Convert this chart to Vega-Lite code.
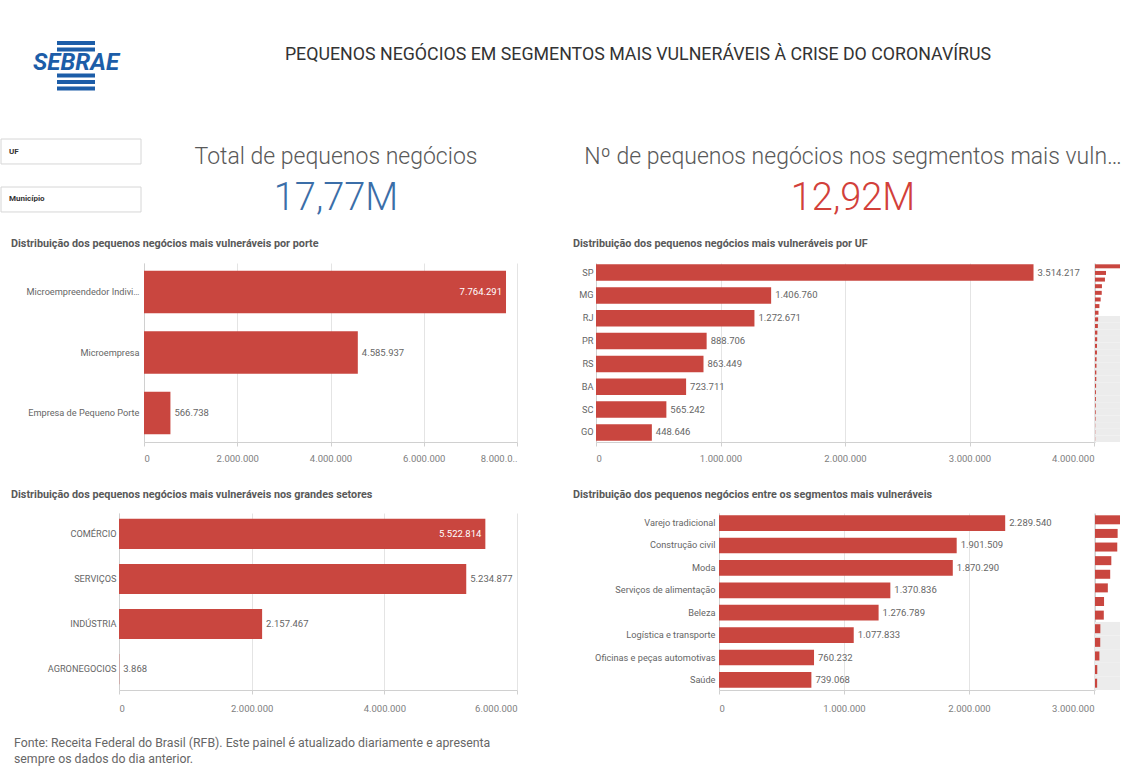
{
  "$schema": "https://vega.github.io/schema/vega-lite/v6.json",
  "padding": 0,
  "background": "white",
  "spacing": 0,
  "config": {
    "view": {"stroke": null},
    "font": "Roboto",
    "locale": {"number": {"decimal": ",", "thousands": ".", "grouping": [3], "currency": ["R$", ""]}},
    "title": {"font": "Roboto", "fontSize": 10.8, "fontWeight": "bold", "color": "#595959", "anchor": "start", "frame": "bounds"},
    "axis": {"labelFont": "Roboto", "labelFontSize": 9.5, "labelColor": "#808080", "domainColor": "#d0d0d0", "gridColor": "#e4e4e4", "tickColor": "#d0d0d0"}
  },
  "datasets": {
    "vazio": [{"texto": ""}],
    "logo": [
      {"parte": "f1", "elemento": "faixa"},
      {"parte": "f2", "elemento": "faixa"},
      {"parte": "marca", "elemento": "texto", "texto": "SEBRAE"},
      {"parte": "f3", "elemento": "faixa"},
      {"parte": "f4", "elemento": "faixa"},
      {"parte": "f5", "elemento": "faixa"}
    ],
    "titulo": [{"texto": "PEQUENOS NEGÓCIOS EM SEGMENTOS MAIS VULNERÁVEIS À CRISE DO CORONAVÍRUS"}],
    "filtros": [{"filtro": "UF"}, {"filtro": "Município"}],
    "kpi": [
      {"grupo": "total", "indicador": "Total de pequenos negócios", "valor": 17770000},
      {"grupo": "vulneraveis", "indicador": "Nº de pequenos negócios nos segmentos mais vulneráveis", "valor": 12920000}
    ],
    "porte": [
      {"porte": "Microempreendedor Individual", "valor": 7764291},
      {"porte": "Microempresa", "valor": 4585937},
      {"porte": "Empresa de Pequeno Porte", "valor": 566738}
    ],
    "uf": [
      {"uf": "SP", "valor": 3514217},
      {"uf": "MG", "valor": 1406760},
      {"uf": "RJ", "valor": 1272671},
      {"uf": "PR", "valor": 888706},
      {"uf": "RS", "valor": 863449},
      {"uf": "BA", "valor": 723711},
      {"uf": "SC", "valor": 565242},
      {"uf": "GO", "valor": 448646},
      {"uf": "PE", "valor": 400000},
      {"uf": "CE", "valor": 370000},
      {"uf": "ES", "valor": 300000},
      {"uf": "PA", "valor": 280000},
      {"uf": "MT", "valor": 260000},
      {"uf": "DF", "valor": 250000},
      {"uf": "MS", "valor": 200000},
      {"uf": "MA", "valor": 190000},
      {"uf": "PB", "valor": 170000},
      {"uf": "RN", "valor": 165000},
      {"uf": "AM", "valor": 140000},
      {"uf": "AL", "valor": 120000},
      {"uf": "PI", "valor": 115000},
      {"uf": "SE", "valor": 90000},
      {"uf": "RO", "valor": 90000},
      {"uf": "TO", "valor": 70000},
      {"uf": "AC", "valor": 30000},
      {"uf": "AP", "valor": 28000},
      {"uf": "RR", "valor": 25000}
    ],
    "setor": [
      {"setor": "COMÉRCIO", "valor": 5522814},
      {"setor": "SERVIÇOS", "valor": 5234877},
      {"setor": "INDÚSTRIA", "valor": 2157467},
      {"setor": "AGRONEGOCIOS", "valor": 3868}
    ],
    "segmento": [
      {"segmento": "Varejo tradicional", "valor": 2289540},
      {"segmento": "Construção civil", "valor": 1901509},
      {"segmento": "Moda", "valor": 1870290},
      {"segmento": "Serviços de alimentação", "valor": 1370836},
      {"segmento": "Beleza", "valor": 1276789},
      {"segmento": "Logística e transporte", "valor": 1077833},
      {"segmento": "Oficinas e peças automotivas", "valor": 760232},
      {"segmento": "Saúde", "valor": 739068},
      {"segmento": "Academias", "valor": 450000},
      {"segmento": "Educação", "valor": 440000},
      {"segmento": "Artesanato", "valor": 370000},
      {"segmento": "Economia criativa", "valor": 190000},
      {"segmento": "Turismo", "valor": 180000}
    ],
    "fonte": [{"texto": "Fonte: Receita Federal do Brasil (RFB). Este painel é atualizado diariamente e apresenta\nsempre os dados do dia anterior."}]
  },
  "vconcat": [
    {
      "spacing": 0,
      "hconcat": [
        {
          "width": 150, "height": 110,
          "data": {"name": "logo"},
          "encoding": {"y": {"field": "parte", "type": "nominal", "scale": {"type": "point", "domain": ["v1", "v2", "v3", "v4", "v5", "v6", "f1", "f2", "e1", "marca", "e2", "f3", "f4", "f5", "w1", "w2", "w3"], "padding": 0.46, "align": 0.667}, "axis": null}},
          "layer": [
            {"transform": [{"filter": "datum.elemento === 'faixa'"}], "mark": {"type": "tick", "orient": "horizontal", "size": 38, "thickness": 4, "color": "#1c5da8", "opacity": 1}},
            {"transform": [{"filter": "datum.elemento === 'texto'"}], "mark": {"type": "text", "fontSize": 24, "fontWeight": "bold", "fontStyle": "italic", "color": "#1c5da8"}, "encoding": {"text": {"field": "texto"}}}
          ]
        },
        {
          "width": 974, "height": 110,
          "data": {"name": "titulo"},
          "mark": {"type": "text", "fontSize": 17.8, "color": "#333333"},
          "encoding": {"text": {"field": "texto"}}
        }
      ]
    },
    {
      "spacing": 50,
      "hconcat": [
        {
          "spacing": 0,
          "hconcat": [
            {
              "width": 140, "height": 127,
              "data": {"name": "filtros"},
              "encoding": {"y": {"field": "filtro", "type": "nominal", "sort": null, "scale": {"paddingInner": 0.48, "paddingOuter": 0.563, "align": 0.537}, "axis": null}},
              "layer": [
                {"mark": {"type": "bar", "fill": "white", "stroke": "#d6d6d6", "strokeWidth": 1}},
                {"mark": {"type": "text", "align": "left", "dx": -62, "fontSize": 8, "fontWeight": "bold", "color": "#333333"}, "encoding": {"text": {"field": "filtro"}}}
              ]
            },
            {
              "width": 388, "height": 127,
              "data": {"name": "kpi"},
              "transform": [{"filter": "datum.grupo === 'total'"}],
              "layer": [
                {"mark": {"type": "text", "fontSize": 23, "fontWeight": 300, "color": "#595959", "limit": 545}, "encoding": {"y": {"datum": "rótulo", "type": "nominal", "scale": {"type": "point", "domain": ["rótulo", "valor"], "padding": 1, "align": 0.55}, "axis": null}, "text": {"field": "indicador"}}},
                {"mark": {"type": "text", "fontSize": 38, "fontWeight": 300, "color": "#3b6ea8"}, "encoding": {"y": {"datum": "valor", "type": "nominal"}, "text": {"field": "valor", "format": ".4s"}}}
              ]
            }
          ]
        },
        {
          "width": 546, "height": 127,
          "data": {"name": "kpi"},
          "transform": [{"filter": "datum.grupo === 'vulneraveis'"}],
          "layer": [
            {"mark": {"type": "text", "fontSize": 23, "fontWeight": 300, "color": "#595959", "limit": 545}, "encoding": {"y": {"datum": "rótulo", "type": "nominal", "scale": {"type": "point", "domain": ["rótulo", "valor"], "padding": 1, "align": 0.55}, "axis": null}, "text": {"field": "indicador"}}},
            {"mark": {"type": "text", "fontSize": 38, "fontWeight": 300, "color": "#d2403a"}, "encoding": {"y": {"datum": "valor", "type": "nominal"}, "text": {"field": "valor", "format": ".4s"}}}
          ]
        }
      ]
    },
    {
      "spacing": 51,
      "hconcat": [
        {
          "spacing": 0,
          "hconcat": [
            {"width": 1, "height": 1, "data": {"name": "vazio"}, "mark": {"type": "text"}, "encoding": {"text": {"field": "texto"}}},
            {
              "width": 373, "height": 179,
              "title": {"text": "Distribuição dos pequenos negócios mais vulneráveis por porte", "dx": 9, "offset": 14.5},
              "data": {"name": "porte"},
              "encoding": {
                "y": {"field": "porte", "type": "nominal", "sort": null, "scale": {"paddingInner": 0.3, "paddingOuter": 0.13}, "axis": {"title": null, "ticks": false, "labelPadding": 5, "labelFontSize": 9.2, "labelLimit": 118, "minExtent": 142, "maxExtent": 142, "labelColor": "#666666"}},
                "x": {"field": "valor", "type": "quantitative", "scale": {"domain": [0, 8000000], "nice": false}, "axis": {"title": null, "tickCount": 4, "format": ",d", "labelExpr": "datum.value >= 8000000 ? slice(datum.label, 0, 7) + '..' : datum.label", "labelFlush": true, "labelOverlap": false, "grid": true, "tickSize": 4, "labelPadding": 7, "minExtent": 46, "maxExtent": 46}}
              },
              "layer": [
                {"mark": {"type": "bar", "color": "#c9463f"}},
                {"transform": [{"filter": "datum.valor < 7000000"}], "mark": {"type": "text", "align": "left", "dx": 4, "fontSize": 9.5, "color": "#666666"}, "encoding": {"text": {"field": "valor", "format": ",d"}}},
                {"transform": [{"filter": "datum.valor >= 7000000"}], "mark": {"type": "text", "align": "right", "dx": -4, "fontSize": 9.5, "color": "white"}, "encoding": {"text": {"field": "valor", "format": ",d"}}}
              ]
            }
          ]
        },
        {
          "spacing": 0,
          "hconcat": [
            {
              "width": 498, "height": 179,
              "title": {"text": "Distribuição dos pequenos negócios mais vulneráveis por UF", "dx": 4, "offset": 14.5},
              "data": {"name": "uf"},
              "transform": [{"filter": "datum.valor >= 440000"}],
              "encoding": {
                "y": {"field": "uf", "type": "nominal", "sort": null, "scale": {"paddingInner": 0.28, "paddingOuter": 0.06}, "axis": {"title": null, "ticks": false, "labelPadding": 3, "labelFontSize": 9.2, "minExtent": 27, "maxExtent": 27, "labelColor": "#666666"}},
                "x": {"field": "valor", "type": "quantitative", "scale": {"domain": [0, 4000000], "nice": false}, "axis": {"title": null, "tickCount": 4, "format": ",d", "labelFlush": true, "labelOverlap": false, "grid": true, "tickSize": 4, "labelPadding": 7, "minExtent": 46, "maxExtent": 46}}
              },
              "layer": [
                {"mark": {"type": "bar", "color": "#c9463f"}},
                {"mark": {"type": "text", "align": "left", "dx": 4, "fontSize": 9.5, "color": "#666666"}, "encoding": {"text": {"field": "valor", "format": ",d"}}}
              ]
            },
            {
              "width": 25, "height": 179,
              "title": {"text": " ", "offset": 14.5},
              "data": {"name": "uf"},
              "encoding": {"y": {"field": "uf", "type": "nominal", "sort": null, "scale": {"paddingInner": 0, "paddingOuter": 0}, "axis": {"title": null, "labels": false, "ticks": false, "grid": false, "domain": true, "minExtent": 0, "maxExtent": 0}}},
              "layer": [
                {"mark": {"type": "bar", "color": "#c9463f", "height": 4, "clip": true}, "encoding": {"x": {"field": "valor", "type": "quantitative", "scale": {"domain": [0, 3200000], "nice": false}, "axis": null}}},
                {"transform": [{"filter": "datum.valor < 440000"}], "mark": {"type": "bar", "color": "#ececec"}},
                {"transform": [{"filter": "datum.valor < 440000"}], "mark": {"type": "bar", "color": "#c9463f", "height": 4, "clip": true}, "encoding": {"x": {"field": "valor", "type": "quantitative"}}}
              ]
            }
          ]
        }
      ]
    },
    {
      "spacing": 51,
      "hconcat": [
        {
          "spacing": 0,
          "hconcat": [
            {"width": 1, "height": 1, "data": {"name": "vazio"}, "mark": {"type": "text"}, "encoding": {"text": {"field": "texto"}}},
            {
              "width": 398, "height": 177,
              "title": {"text": "Distribuição dos pequenos negócios mais vulneráveis nos grandes setores", "dx": 9, "offset": 13.5},
              "data": {"name": "setor"},
              "encoding": {
                "y": {"field": "setor", "type": "nominal", "sort": null, "scale": {"paddingInner": 0.33, "paddingOuter": 0.13}, "axis": {"title": null, "ticks": false, "labelPadding": 3, "labelFontSize": 9.2, "minExtent": 117, "maxExtent": 117, "labelColor": "#666666"}},
                "x": {"field": "valor", "type": "quantitative", "scale": {"domain": [0, 6000000], "nice": false}, "axis": {"title": null, "tickCount": 3, "format": ",d", "labelFlush": true, "labelOverlap": false, "grid": true, "tickSize": 4, "labelPadding": 9, "minExtent": 34, "maxExtent": 34}}
              },
              "layer": [
                {"mark": {"type": "bar", "color": "#c9463f"}},
                {"transform": [{"filter": "datum.valor < 5400000"}], "mark": {"type": "text", "align": "left", "dx": 4, "fontSize": 9.5, "color": "#666666"}, "encoding": {"text": {"field": "valor", "format": ",d"}}},
                {"transform": [{"filter": "datum.valor >= 5400000"}], "mark": {"type": "text", "align": "right", "dx": -4, "fontSize": 9.5, "color": "white"}, "encoding": {"text": {"field": "valor", "format": ",d"}}}
              ]
            }
          ]
        },
        {
          "spacing": 0,
          "hconcat": [
            {
              "width": 375, "height": 177,
              "title": {"text": "Distribuição dos pequenos negócios entre os segmentos mais vulneráveis", "dx": 4, "offset": 13.5},
              "data": {"name": "segmento"},
              "transform": [{"filter": "datum.valor >= 700000"}],
              "encoding": {
                "y": {"field": "segmento", "type": "nominal", "sort": null, "scale": {"paddingInner": 0.3, "paddingOuter": 0.1}, "axis": {"title": null, "ticks": false, "labelPadding": 4, "labelFontSize": 9.2, "labelLimit": 150, "minExtent": 150, "maxExtent": 150, "labelColor": "#666666"}},
                "x": {"field": "valor", "type": "quantitative", "scale": {"domain": [0, 3000000], "nice": false}, "axis": {"title": null, "tickCount": 3, "format": ",d", "labelFlush": true, "labelOverlap": false, "grid": true, "tickSize": 4, "labelPadding": 9, "minExtent": 34, "maxExtent": 34}}
              },
              "layer": [
                {"mark": {"type": "bar", "color": "#c9463f"}},
                {"mark": {"type": "text", "align": "left", "dx": 4, "fontSize": 9.5, "color": "#666666"}, "encoding": {"text": {"field": "valor", "format": ",d"}}}
              ]
            },
            {
              "width": 25, "height": 177,
              "title": {"text": " ", "offset": 13.5},
              "data": {"name": "segmento"},
              "encoding": {"y": {"field": "segmento", "type": "nominal", "sort": null, "scale": {"paddingInner": 0, "paddingOuter": 0}, "axis": {"title": null, "labels": false, "ticks": false, "grid": false, "domain": true, "minExtent": 0, "maxExtent": 0}}},
              "layer": [
                {"mark": {"type": "bar", "color": "#c9463f", "height": 9, "clip": true}, "encoding": {"x": {"field": "valor", "type": "quantitative", "scale": {"domain": [0, 2100000], "nice": false}, "axis": null}}},
                {"transform": [{"filter": "datum.valor < 700000"}], "mark": {"type": "bar", "color": "#ececec"}},
                {"transform": [{"filter": "datum.valor < 700000"}], "mark": {"type": "bar", "color": "#c9463f", "height": 9, "clip": true}, "encoding": {"x": {"field": "valor", "type": "quantitative"}}}
              ]
            }
          ]
        }
      ]
    },
    {
      "width": 26, "height": 38,
      "data": {"name": "fonte"},
      "mark": {"type": "text", "align": "left", "fontSize": 12.3, "color": "#666666", "lineBreak": "\n", "lineHeight": 16},
      "encoding": {"text": {"field": "texto"}}
    }
  ]
}
